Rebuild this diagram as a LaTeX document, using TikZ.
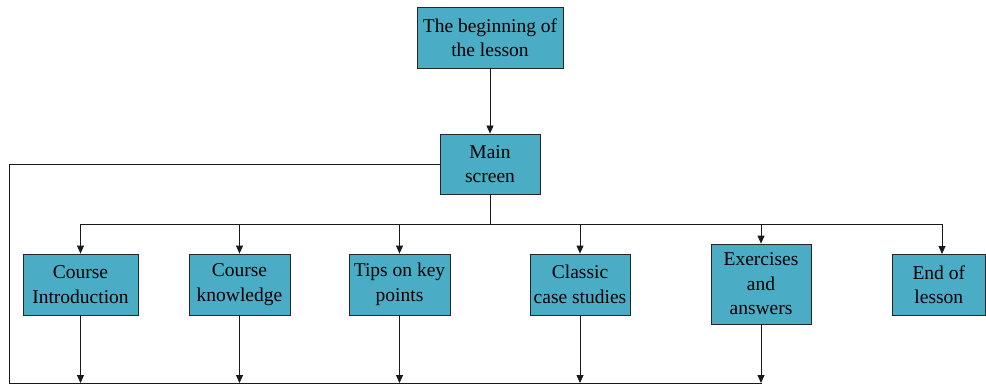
\documentclass[tikz,border=0pt]{standalone}
\usepackage{fontspec}
\setmainfont{Liberation Serif}
\usetikzlibrary{arrows.meta}
\definecolor{boxfill}{RGB}{75,172,198}
\tikzset{
  box/.style={draw=black!85, fill=boxfill, line width=0.8pt, align=center, inner sep=0pt,
    font=\fontsize{19.5}{24.5}\selectfont, text=black},
  conn/.style={line width=0.8pt, draw=black!90},
  arr/.style={conn, -{Triangle[width=7pt,length=8pt]}}
}
\begin{document}
\begin{tikzpicture}[x=1pt,y=-1pt]
\useasboundingbox (0,0) rectangle (986,385);
\node[box, minimum width=146pt, minimum height=61pt] (begin) at (490,37.5) {The beginning of\\the lesson};
\node[box, minimum width=100pt, minimum height=60pt] (main) at (490,164) {Main\\screen};
\node[box, minimum width=115pt, minimum height=61pt] (intro) at (80.5,284.5) {Course\\Introduction};
\node[box, minimum width=101pt, minimum height=61pt] (know) at (239.5,284.5) {Course\\knowledge};
\node[box, minimum width=101pt, minimum height=61pt] (tips) at (399.5,284.5) {Tips on key\\points};
\node[box, minimum width=100pt, minimum height=61pt] (case) at (580,284.5) {Classic\\case studies};
\node[box, minimum width=100pt, minimum height=80pt] (ex) at (761,284) {Exercises\\and\\answers};
\node[box, minimum width=93pt, minimum height=61pt] (end) at (938.8,284.5) {End of\\lesson};

\coordinate (split) at (490,224);
\coordinate (bl) at (9,383);
\coordinate (br) at (762,383);
\coordinate (tl) at (9,164);
\coordinate (endtop) at (942,254);

\draw[arr] (begin.south) -- (main.north);
\draw[conn] (main.south) -- (split);
\draw[conn] (80,224) -- (942,224);
\foreach \n in {intro,know,tips,case,ex}
  \draw[arr] (split -| \n.north) -- (\n.north);
\draw[arr] (split -| endtop) -- (endtop);
\foreach \n in {intro,know,tips,case,ex}
  \draw[arr] (\n.south) -- (\n.south |- bl);
\draw[conn] (br) -- (bl) -- (tl) -- (main.west);
\end{tikzpicture}
\end{document}
